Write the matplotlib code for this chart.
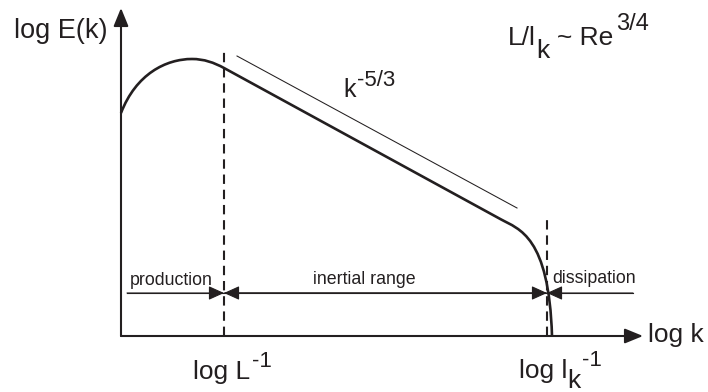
import numpy as np
import matplotlib.pyplot as plt
from matplotlib.path import Path
from matplotlib.patches import PathPatch, FancyArrowPatch

plt.rcParams['font.family'] = ['Liberation Sans', 'DejaVu Sans']
INK = '#231f20'

# ---------- schematic energy spectrum (log k, log E), Bezier control points ----------
# rise from the origin to the energy peak, then down to the integral scale
rise_k = [0, 15, 45, 71, 83, 93, 103]
rise_E = [223, 262, 277, 277, 277, 273.4, 268]
# inertial range: straight -5/3 segment
inertial_k = [103, 380]
inertial_E = [268, 116.6]
# dissipation roll-off down to the axis
diss_k = [380, 398, 428, 431]
diss_E = [116.6, 106.8, 100, 0]

# reference slope line k^-5/3
slope_k = [116, 396]
slope_E = [280, 128]

# characteristic wavenumbers
k_L = 103      # log L^-1
k_eta = 426    # log l_k^-1
k_end = 522    # end of the log k axis
E_top = 328    # end of the log E axis
dash_top = [287, 116]

# range bars
bar_E = 43
bar_left = 6
bar_right = 512
range_labels = ["production", "inertial range", "dissipation"]

fig = plt.figure(figsize=(7.08, 3.92), dpi=100)
ax = fig.add_axes([0, 0, 1, 1])
ax.set_xlim(-121, 587)
ax.set_ylim(-56, 336)
ax.axis('off')

# spectrum curve
verts = list(zip(rise_k, rise_E)) + [(inertial_k[1], inertial_E[1])] + list(zip(diss_k[1:], diss_E[1:]))
codes = ([Path.MOVETO] + [Path.CURVE4] * 6 + [Path.LINETO] + [Path.CURVE4] * 3)
ax.add_patch(PathPatch(Path(verts, codes), facecolor='none', edgecolor=INK, lw=1.9,
                       capstyle='butt', joinstyle='round'))

# thin slope guide
ax.plot(slope_k, slope_E, color=INK, lw=0.75)

# axes with arrow heads
axis_style = "-|>,head_length=11,head_width=4.5"
ax.add_patch(FancyArrowPatch((0, 0), (k_end, 0), arrowstyle=axis_style, color=INK,
                             lw=1.5, shrinkA=0, shrinkB=0, mutation_scale=1))
ax.add_patch(FancyArrowPatch((0, 0), (0, E_top), arrowstyle=axis_style, color=INK,
                             lw=1.5, shrinkA=0, shrinkB=0, mutation_scale=1))

# dashed scale markers
for kx, top in zip([k_L, k_eta], dash_top):
    ax.plot([kx, kx], [0, top], color=INK, lw=1.5, linestyle=(0, (4.5, 2.8)))

# range bars with arrow heads pointing at the dashed lines
bar_style = "-|>,head_length=9.5,head_width=4.3"
ax.plot([bar_left, bar_right], [bar_E, bar_E], color=INK, lw=0.8)
for start, end in [(bar_left, k_L), (k_eta, k_L), (k_L, k_eta), (bar_right, k_eta)]:
    ax.add_patch(FancyArrowPatch((start, bar_E), (end, bar_E), arrowstyle=bar_style, color=INK,
                                 lw=0.8, shrinkA=0, shrinkB=0, mutation_scale=1))

# range labels
small = 12.8
ax.text(bar_left + 3, bar_E + 8, range_labels[0], fontsize=small, color=INK, ha='left', va='baseline')
ax.text(192, bar_E + 9, range_labels[1], fontsize=small, color=INK, ha='left', va='baseline')
ax.text(k_eta + 5, bar_E + 10, range_labels[2], fontsize=small, color=INK, ha='left', va='baseline')

# axis labels
big = 19
ax.text(-107, 298, "log E(k)", fontsize=19.5, color=INK, ha='left', va='baseline')
ax.text(k_end + 5, -6, "log k", fontsize=big, color=INK, ha='left', va='baseline')

# labels under the axis
ax.text(72, -43, "log L", fontsize=big, color=INK, ha='left', va='baseline')
ax.text(131, -31, "-1", fontsize=16, color=INK, ha='left', va='baseline')
ax.text(398, -42, "log l", fontsize=big, color=INK, ha='left', va='baseline')
ax.text(446, -52, "k", fontsize=big, color=INK, ha='left', va='baseline')
ax.text(461, -30, "-1", fontsize=16, color=INK, ha='left', va='baseline')

# slope annotation
ax.text(222, 239, "k", fontsize=18, color=INK, ha='left', va='baseline')
ax.text(236, 250, "-5/3", fontsize=16, color=INK, ha='left', va='baseline')

# scale ratio
ax.text(387, 291, "L/l", fontsize=big, color=INK, ha='left', va='baseline')
ax.text(415, 278, "k", fontsize=big, color=INK, ha='left', va='baseline')
ax.text(436, 291, "~ Re", fontsize=big, color=INK, ha='left', va='baseline')
ax.text(495, 306, "3/4", fontsize=17, color=INK, ha='left', va='baseline')

fig.savefig("out.png", dpi=100)
